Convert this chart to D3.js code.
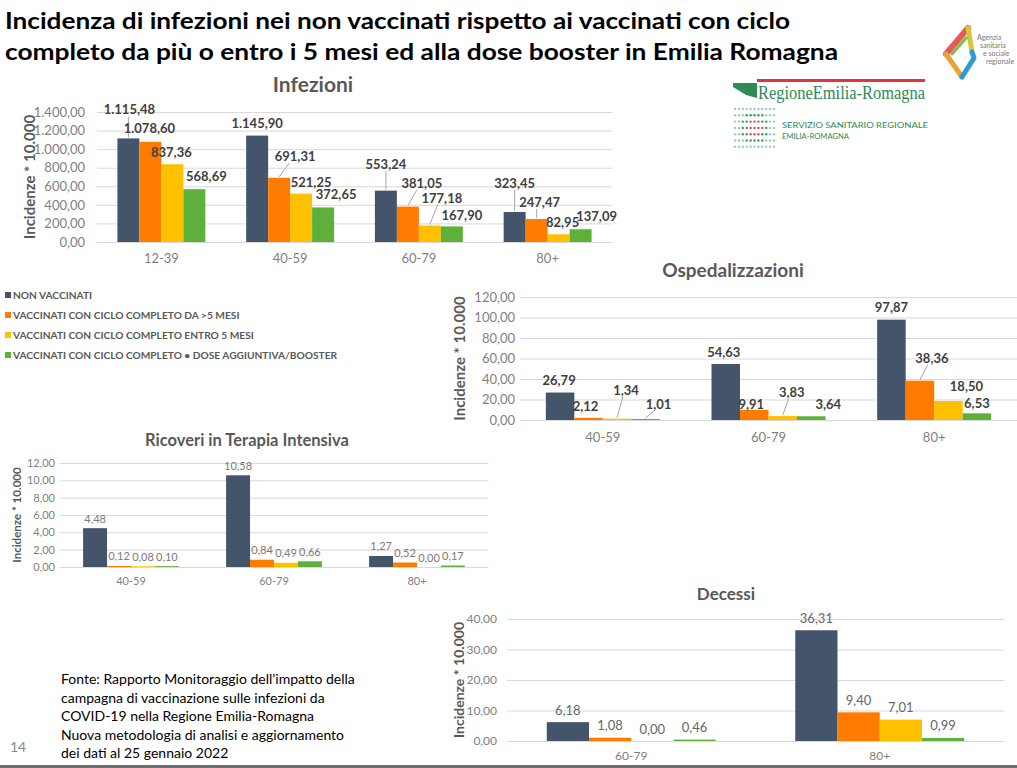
<!DOCTYPE html>
<html><head><meta charset="utf-8">
<script src="https://cdn.jsdelivr.net/npm/d3@7"></script>
<style>body{margin:0;background:#fff} svg{display:block}</style>
</head><body>
<svg id="c" width="1017" height="768"></svg>
<script>
// ---------------- DATA ----------------
const seriesNames = ["NON VACCINATI","VACCINATI CON CICLO COMPLETO DA >5 MESI","VACCINATI CON CICLO COMPLETO ENTRO 5 MESI","VACCINATI CON CICLO COMPLETO • DOSE AGGIUNTIVA/BOOSTER"];

const infCategories = ["12-39","40-59","60-79","80+"];
const infNonVacc = [1115.48,1145.90,553.24,323.45];
const infOver5   = [1078.60,691.31,381.05,247.47];
const infWithin5 = [837.36,521.25,177.18,82.95];
const infBooster = [568.69,372.65,167.90,137.09];
const infTicks = [0,200,400,600,800,1000,1200,1400];

const ospCategories = ["40-59","60-79","80+"];
const ospNonVacc = [26.79,54.63,97.87];
const ospOver5   = [2.12,9.91,38.36];
const ospWithin5 = [1.34,3.83,18.50];
const ospBooster = [1.01,3.64,6.53];
const ospTicks = [0,20,40,60,80,100,120];

const tiCategories = ["40-59","60-79","80+"];
const tiNonVacc = [4.48,10.58,1.27];
const tiOver5   = [0.12,0.84,0.52];
const tiWithin5 = [0.08,0.49,0.00];
const tiBooster = [0.10,0.66,0.17];
const tiTicks = [0,2,4,6,8,10,12];

const decCategories = ["60-79","80+"];
const decNonVacc = [6.18,36.31];
const decOver5   = [1.08,9.40];
const decWithin5 = [0.00,7.01];
const decBooster = [0.46,0.99];
const decTicks = [0,10,20,30,40];

const titleLines = ["Incidenza di infezioni nei non vaccinati rispetto ai vaccinati con ciclo",
                    "completo da più o entro i 5 mesi ed alla dose booster in Emilia Romagna"];
const sourceLines = ["Fonte: Rapporto Monitoraggio dell\u2019impatto della",
  "campagna di vaccinazione sulle infezioni da",
  "COVID-19 nella Regione Emilia-Romagna",
  "Nuova metodologia di analisi e aggiornamento",
  "dei dati al 25 gennaio 2022"];
const yAxisLabel = "Incidenze * 10.000";

// ---------------- STYLE / LAYOUT ----------------
const seriesColors = ["#44546A","#FF7C00","#FFC000","#5DB13B"];
const FONT = "Lato, 'Noto Sans', sans-serif";
const itLocale = d3.formatLocale({decimal:",", thousands:".", grouping:[3], currency:["€",""]});
const fmt = itLocale.format(",.2f");

const svg = d3.select("#c");
svg.append("rect").attr("width",1017).attr("height",768).attr("fill","#fff");

// label nudges [dx, dy, leader] per series, per category (annotation placement)
const infNudges = [
  [[1,-29,1],[0,-13,0],[0,-27,1],[0,-29,1]],
  [[-1,-14,0],[16,-22,1],[14,-24,1],[3,-17,1]],
  [[-1,-12,0],[10,-12,0],[12,-28,1],[4,-12,0]],
  [[12,-13,0],[13,-13,0],[10,-11,0],[16,-13,0]]];
const ospNudges = [
  [[-1,-13,0],[-2,-12,0],[0,-13,0]],
  [[-3,-12,0],[-3,-6,0],[12,-23,1]],
  [[9,-29,1],[9,-24,1],[18,-15,0]],
  [[13,-15,1],[17,-12,0],[0,-10,0]]];

const charts = [
  {title:"Infezioni", cats:infCategories, series:[infNonVacc,infOver5,infWithin5,infBooster], ticks:infTicks,
   x0:97, x1:612, yBase:242, yTop:112, max:1400, pad:0.317,
   titleX:313, titleY:83, titleSize:21, tickRight:85, tickSize:13, xLabelY:258, xLabelSize:13,
   yLabelX:29, yLabelSize:15, labelWeight:"bold", labelSize:13, labelColor:"#404040", labelDy:-12, nudges:infNudges},
  {title:"Ospedalizzazioni", cats:ospCategories, series:[ospNonVacc,ospOver5,ospWithin5,ospBooster], ticks:ospTicks,
   x0:520, x1:1017, yBase:420, yTop:297, max:120, pad:0.312,
   titleX:733, titleY:269, titleSize:19, tickRight:515, tickSize:13, xLabelY:437, xLabelSize:13,
   yLabelX:459, yLabelSize:15, labelWeight:"bold", labelSize:13, labelColor:"#404040", labelDy:-12, nudges:ospNudges},
  {title:"Ricoveri in Terapia Intensiva", cats:tiCategories, series:[tiNonVacc,tiOver5,tiWithin5,tiBooster], ticks:tiTicks,
   x0:59.5, x1:488.5, yBase:567, yTop:463, max:12, pad:0.33,
   titleX:247, titleY:440, titleSize:16.5, tickRight:55, tickSize:11, xLabelY:581, xLabelSize:11,
   yLabelX:16, yLabelSize:11.5, labelWeight:"normal", labelSize:11, labelColor:"#7a7a7a", labelDy:-10, nudges:null},
  {title:"Decessi", cats:decCategories, series:[decNonVacc,decOver5,decWithin5,decBooster], ticks:decTicks,
   x0:507, x1:1004, yBase:741, yTop:619, max:40, pad:0.32,
   titleX:726, titleY:593, titleSize:17, tickRight:497, tickSize:12, xLabelY:756, xLabelSize:12,
   yLabelX:458, yLabelSize:14, labelWeight:"normal", labelSize:13, labelColor:"#666", labelDy:-12.5, nudges:null}
];

function drawChart(cfg){
  const g = svg.append("g");
  const x = d3.scaleBand().domain(cfg.cats).range([cfg.x0,cfg.x1]).paddingInner(cfg.pad).paddingOuter(cfg.pad/2);
  const xs = d3.scaleBand().domain(d3.range(cfg.series.length)).range([0,x.bandwidth()]);
  const y = d3.scaleLinear().domain([0,cfg.max]).range([cfg.yBase,cfg.yTop]);

  const ga = g.append("g").attr("transform",`translate(${cfg.x0},0)`)
    .call(d3.axisLeft(y).tickValues(cfg.ticks).tickFormat(fmt).tickSize(-(cfg.x1-cfg.x0)).tickPadding(cfg.x0-cfg.tickRight));
  ga.attr("font-family",FONT).attr("font-size",cfg.tickSize);
  ga.select(".domain").remove();
  ga.selectAll(".tick line").attr("stroke","#d9d9d9").attr("stroke-width",1);
  ga.selectAll(".tick text").attr("fill","#7f7f7f");

  const gx = g.append("g").attr("transform",`translate(0,${cfg.yBase})`)
    .call(d3.axisBottom(x).tickSize(0).tickPadding(cfg.xLabelY-cfg.yBase-0.36*cfg.xLabelSize));
  gx.attr("font-family",FONT).attr("font-size",cfg.xLabelSize);
  gx.select(".domain").remove();
  gx.selectAll(".tick text").attr("fill","#7f7f7f");

  cfg.series.forEach((vals,s)=>{
    vals.forEach((v,i)=>{
      const bx = x(cfg.cats[i]) + xs(s);
      g.append("rect").attr("x",bx).attr("y",y(v)).attr("width",xs.bandwidth())
        .attr("height",cfg.yBase-y(v)).attr("fill",seriesColors[s]);
      const cx = bx + xs.bandwidth()/2, top = y(v);
      const nd = cfg.nudges ? cfg.nudges[s][i] : [0,cfg.labelDy,0];
      const lx = cx + nd[0], ly = top + nd[1];
      if(nd[2]){
        const vertical = Math.abs(nd[0])<=4;
        g.append("line").attr("x1",cx).attr("y1",top-1)
          .attr("x2",vertical?cx:lx-nd[0]*0.35).attr("y2",ly+7)
          .attr("stroke","#a6a6a6").attr("stroke-width",1);
      }
      g.append("text").attr("x",lx).attr("y",ly).attr("text-anchor","middle")
        .attr("dominant-baseline","central").attr("font-family",FONT)
        .attr("font-size",cfg.labelSize).attr("font-weight",cfg.labelWeight)
        .attr("fill",cfg.labelColor).text(fmt(v));
    });
  });

  g.append("text").attr("x",cfg.titleX).attr("y",cfg.titleY).attr("text-anchor","middle")
    .attr("dominant-baseline","central").attr("font-family",FONT).attr("font-size",cfg.titleSize)
    .attr("font-weight","bold").attr("fill","#595959").text(cfg.title);

  const yc = (cfg.yBase+cfg.yTop)/2;
  g.append("text").attr("transform",`translate(${cfg.yLabelX},${yc}) rotate(-90)`)
    .attr("text-anchor","middle").attr("dominant-baseline","central").attr("font-family",FONT)
    .attr("font-size",cfg.yLabelSize).attr("font-weight","bold").attr("fill","#595959").text(yAxisLabel);
}
charts.forEach(drawChart);

// legend
const leg = svg.append("g");
seriesNames.forEach((n,i)=>{
  const yy = 295 + i*20;
  leg.append("rect").attr("x",5).attr("y",yy-3).attr("width",6).attr("height",6).attr("fill",seriesColors[i]);
  leg.append("text").attr("x",13).attr("y",yy).attr("dominant-baseline","central")
    .attr("font-family",FONT).attr("font-size",10.2).attr("font-weight","bold").attr("fill","#595959").text(n);
});

// main title
titleLines.forEach((t,i)=>{
  svg.append("text").attr("x",5).attr("y",29+i*31).attr("font-family",FONT).attr("font-size",22.5)
    .attr("font-weight","bold").attr("fill","#000").attr("textLength",i?833:785)
    .attr("lengthAdjust","spacingAndGlyphs").text(t);
});

// source note
sourceLines.forEach((t,i)=>{
  svg.append("text").attr("x",61).attr("y",684+i*18.5).attr("font-family",FONT).attr("font-size",14)
    .attr("fill","#000").text(t);
});
svg.append("text").attr("x",10).attr("y",752).attr("font-family",FONT).attr("font-size",14).attr("fill","#8a8a8a").text("14");
svg.append("rect").attr("x",0).attr("y",765).attr("width",1017).attr("height",3).attr("fill","#6e6e6e");

// Regione Emilia-Romagna logo
const lg = svg.append("g");
lg.append("rect").attr("x",757).attr("y",79).attr("width",168).attr("height",3).attr("fill","#e0353b");
lg.append("polygon").attr("points","733,83 757,83 757,98 746,95 733,87").attr("fill","#2e8b57");
lg.append("text").attr("x",758).attr("y",99).attr("font-family","'Liberation Serif', serif").attr("font-size",18)
  .attr("fill","#2e8b57").attr("textLength",167).attr("lengthAdjust","spacingAndGlyphs").text("RegioneEmilia-Romagna");
for(let r=0;r<7;r++){ for(let c=0;c<11;c++){
  const d = Math.hypot((c-5)/1.6,(r-3));
  const col = d<1.3 ? "#d9534f" : d<2.4 ? "#2e9e5b" : "#9fcfb1";
  lg.append("circle").attr("cx",735+c*3.9).attr("cy",109+r*6.3).attr("r",1.2).attr("fill",col);
}}
lg.append("text").attr("x",782).attr("y",128).attr("font-family",FONT).attr("font-size",7.6).attr("fill","#2e8b57")
  .attr("textLength",146).attr("lengthAdjust","spacingAndGlyphs").text("SERVIZIO  SANITARIO  REGIONALE");
lg.append("text").attr("x",782).attr("y",139).attr("font-family",FONT).attr("font-size",7.6).attr("fill","#2e8b57")
  .text("EMILIA-ROMAGNA");

// Agenzia sanitaria logo
const ag = svg.append("g").attr("fill","none").attr("stroke-linecap","round").attr("stroke-linejoin","round");
ag.append("path").attr("d","M968,28 L946,54").attr("stroke","#e8585a").attr("stroke-width",6);
ag.append("path").attr("d","M968,28 L972,52").attr("stroke","#d6c43a").attr("stroke-width",5);
ag.append("path").attr("d","M946,54 L962,77").attr("stroke","#e8a23a").attr("stroke-width",5);
ag.append("path").attr("d","M962,77 L974,58 L972,52").attr("stroke","#2f9ad6").attr("stroke-width",5);
ag.append("path").attr("d","M952,54 L966,38").attr("stroke","#7bbf4a").attr("stroke-width",3);
["Agenzia","sanitaria","e sociale","regionale"].forEach((t,i)=>{
  svg.append("text").attr("x",977+i*3).attr("y",40+i*8).attr("font-family",FONT).attr("font-size",7)
    .attr("fill","#777").text(t);
});
</script>
</body></html>
